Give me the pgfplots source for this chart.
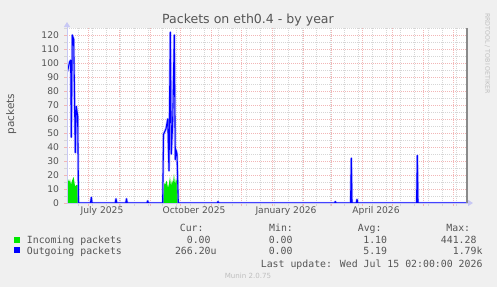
\documentclass[border=0pt]{standalone}
\usepackage{pgfplots}
\pgfplotsset{compat=1.18}
\usepackage{fontspec}
\setmainfont{DejaVu Sans}
\newfontfamily\mono{DejaVu Sans Mono}
\usetikzlibrary{arrows.meta}
\definecolor{bg}{HTML}{F0F0F0}
\definecolor{gridred}{HTML}{F2B6B6}
\definecolor{gridgray}{HTML}{D6D6D6}
\definecolor{txt}{HTML}{555555}
\definecolor{axisblue}{HTML}{C8C8F4}
\definecolor{ingreen}{HTML}{00E800}
\definecolor{outblue}{HTML}{0000FF}
\definecolor{halo}{HTML}{9A9AFF}
\definecolor{framegray}{HTML}{8A8A8A}
\pgfplotstableread{
x y
0.5 94
2.7 101
3.7 102
4.3 47
5.3 120
6.7 117
8.3 36
9.3 69
10.7 62
11.5 0
23.5 0
24.3 4
25.1 0
48.2 0
49 3
49.8 0
58.7 0
59.5 3
60.3 0
79.9 0
80.7 1.5
81.5 0
95.7 0
96.5 49
99 53
100.7 60
102 23
103.3 122
104.3 35
105.7 58
107.3 120
108.3 31
109 38
110 35
111.3 0
150.2 0
151 1
151.8 0
267.5 0
268.3 1
269.1 0
283.6 0
284.3 32
285 0
289.3 0
290 2.6
290.8 0
349.6 0
350.3 34
351 0
400 0
}\outgoing
\pgfplotstableread{
x y
0.4 0
0.5 18
1.5 16
2.3 15
3 17
4 13
5 16
6.7 18.6
8 12
9.7 13
11.3 13
11.8 0
96 0
97 14.5
98 13
99.7 16
101 10.7
102 14
103 18.8
104 12
105 16.4
106 14
107 20.7
108 13
109 17.6
110.5 14
111.2 0
349.7 0
350.1 3
350.5 0
400 0
}\incoming
\begin{document}
\begin{tikzpicture}[x=1bp,y=1bp]
\fill[bg] (0,0) rectangle (497,287);
\begin{axis}[
  at={(67bp,84bp)}, anchor=south west,
  width=400bp, height=175bp, scale only axis,
  xmin=0, xmax=400, ymin=0, ymax=125,
  axis background/.style={fill=white},
  axis x line*=bottom, axis y line*=left,
  axis line style={draw=axisblue, line width=1bp},
  grid=both,
  major grid style={draw=gridred, line width=0.7bp, dash pattern=on 1bp off 1bp},
  minor grid style={draw=gridgray, line width=0.7bp, dash pattern=on 1bp off 1bp},
  xtick={21,52,83,113,144,174,205,236,264,295,325,356,386},
  xticklabels={},
  minor xtick={11,25,39,53,67,81,95,109,123,137,151,165,179,193,207,221,235,249,263,277,291,305,319,333,347,361,375,389},
  ytick={0,10,...,120},
  minor ytick={5,15,...,125},
  extra x ticks={35,127,219,309},
  extra x tick labels={July 2025,October 2025,January 2026,April 2026},
  extra x tick style={grid=none, major tick length=0pt},
  tick align=outside,
  major tick length=3bp, minor tick length=3bp,
  major tick style={draw=gridred, line width=0.7bp},
  minor tick style={draw=gridgray, line width=0.7bp},
  tick label style={font=\fontsize{9.2}{10}\selectfont, text=txt},
  yticklabel style={xshift=-1.5bp},
  /pgf/number format/assume math mode=true,
  clip=true,
]
\addplot[draw=none, fill=ingreen] table[x=x,y=y] {\incoming} \closedcycle;
\addplot[halo, line width=2.4bp, line join=round, opacity=0.6] table[x=x,y=y] {\outgoing};
\addplot[outblue, line width=1.1bp, line join=round] table[x=x,y=y] {\outgoing};
\end{axis}
% axis arrows and right frame
\draw[axisblue, line width=1bp, -{Triangle[length=5bp,width=6bp]}] (67,84) -- (67,265);
\draw[axisblue, line width=1bp, -{Triangle[length=5bp,width=6bp]}] (67,84) -- (473,84);
\draw[framegray, line width=1.2bp] (467,84) -- (467,259);
% title and labels
\node[anchor=base, inner sep=0pt, text=txt, font=\fontsize{12.6}{14}\selectfont] at (248,263.8) {Packets on eth0.4 - by year};
\node[rotate=90, inner sep=0pt, text=txt, font=\fontsize{10.5}{12}\selectfont] at (11.2,172.8) {packets};
\node[rotate=-90, inner sep=0pt, text=black!25, font=\fontsize{6.3}{7}\selectfont] at (487.5,233.5) {RRDTOOL / TOBI OETIKER};
% legend
\fill[ingreen] (14,44) rectangle (20,50);
\fill[outblue] (14,33.7) rectangle (20,39.7);
\begin{scope}[every node/.style={inner sep=0pt, text=txt, font=\mono\fontsize{9.9}{11}\selectfont}]
\node[anchor=base] at (191.7,55.1) {Cur:};
\node[anchor=base] at (281,55.1) {Min:};
\node[anchor=base] at (369.7,55.1) {Avg:};
\node[anchor=base] at (458.3,55.1) {Max:};
\node[anchor=base west] at (26.7,43.4) {Incoming packets};
\node[anchor=base west] at (26.7,32.1) {Outgoing packets};
\node[anchor=base east] at (210.8,43.4) {0.00};
\node[anchor=base east] at (292.7,43.4) {0.00};
\node[anchor=base east] at (387.3,43.4) {1.10};
\node[anchor=base east] at (476.7,43.4) {441.28};
\node[anchor=base east] at (216.8,32.1) {266.20u};
\node[anchor=base east] at (292.7,32.1) {0.00};
\node[anchor=base east] at (387.3,32.1) {5.19};
\node[anchor=base east] at (482.7,32.1) {1.79k};
\node[anchor=base east] at (482.7,19.7) {Last update: Wed Jul 15 02:00:00 2026};
\end{scope}
\node[anchor=base, inner sep=0pt, text=black!25, font=\fontsize{7.1}{8}\selectfont] at (248,8.1) {Munin 2.0.75};
\end{tikzpicture}
\end{document}
